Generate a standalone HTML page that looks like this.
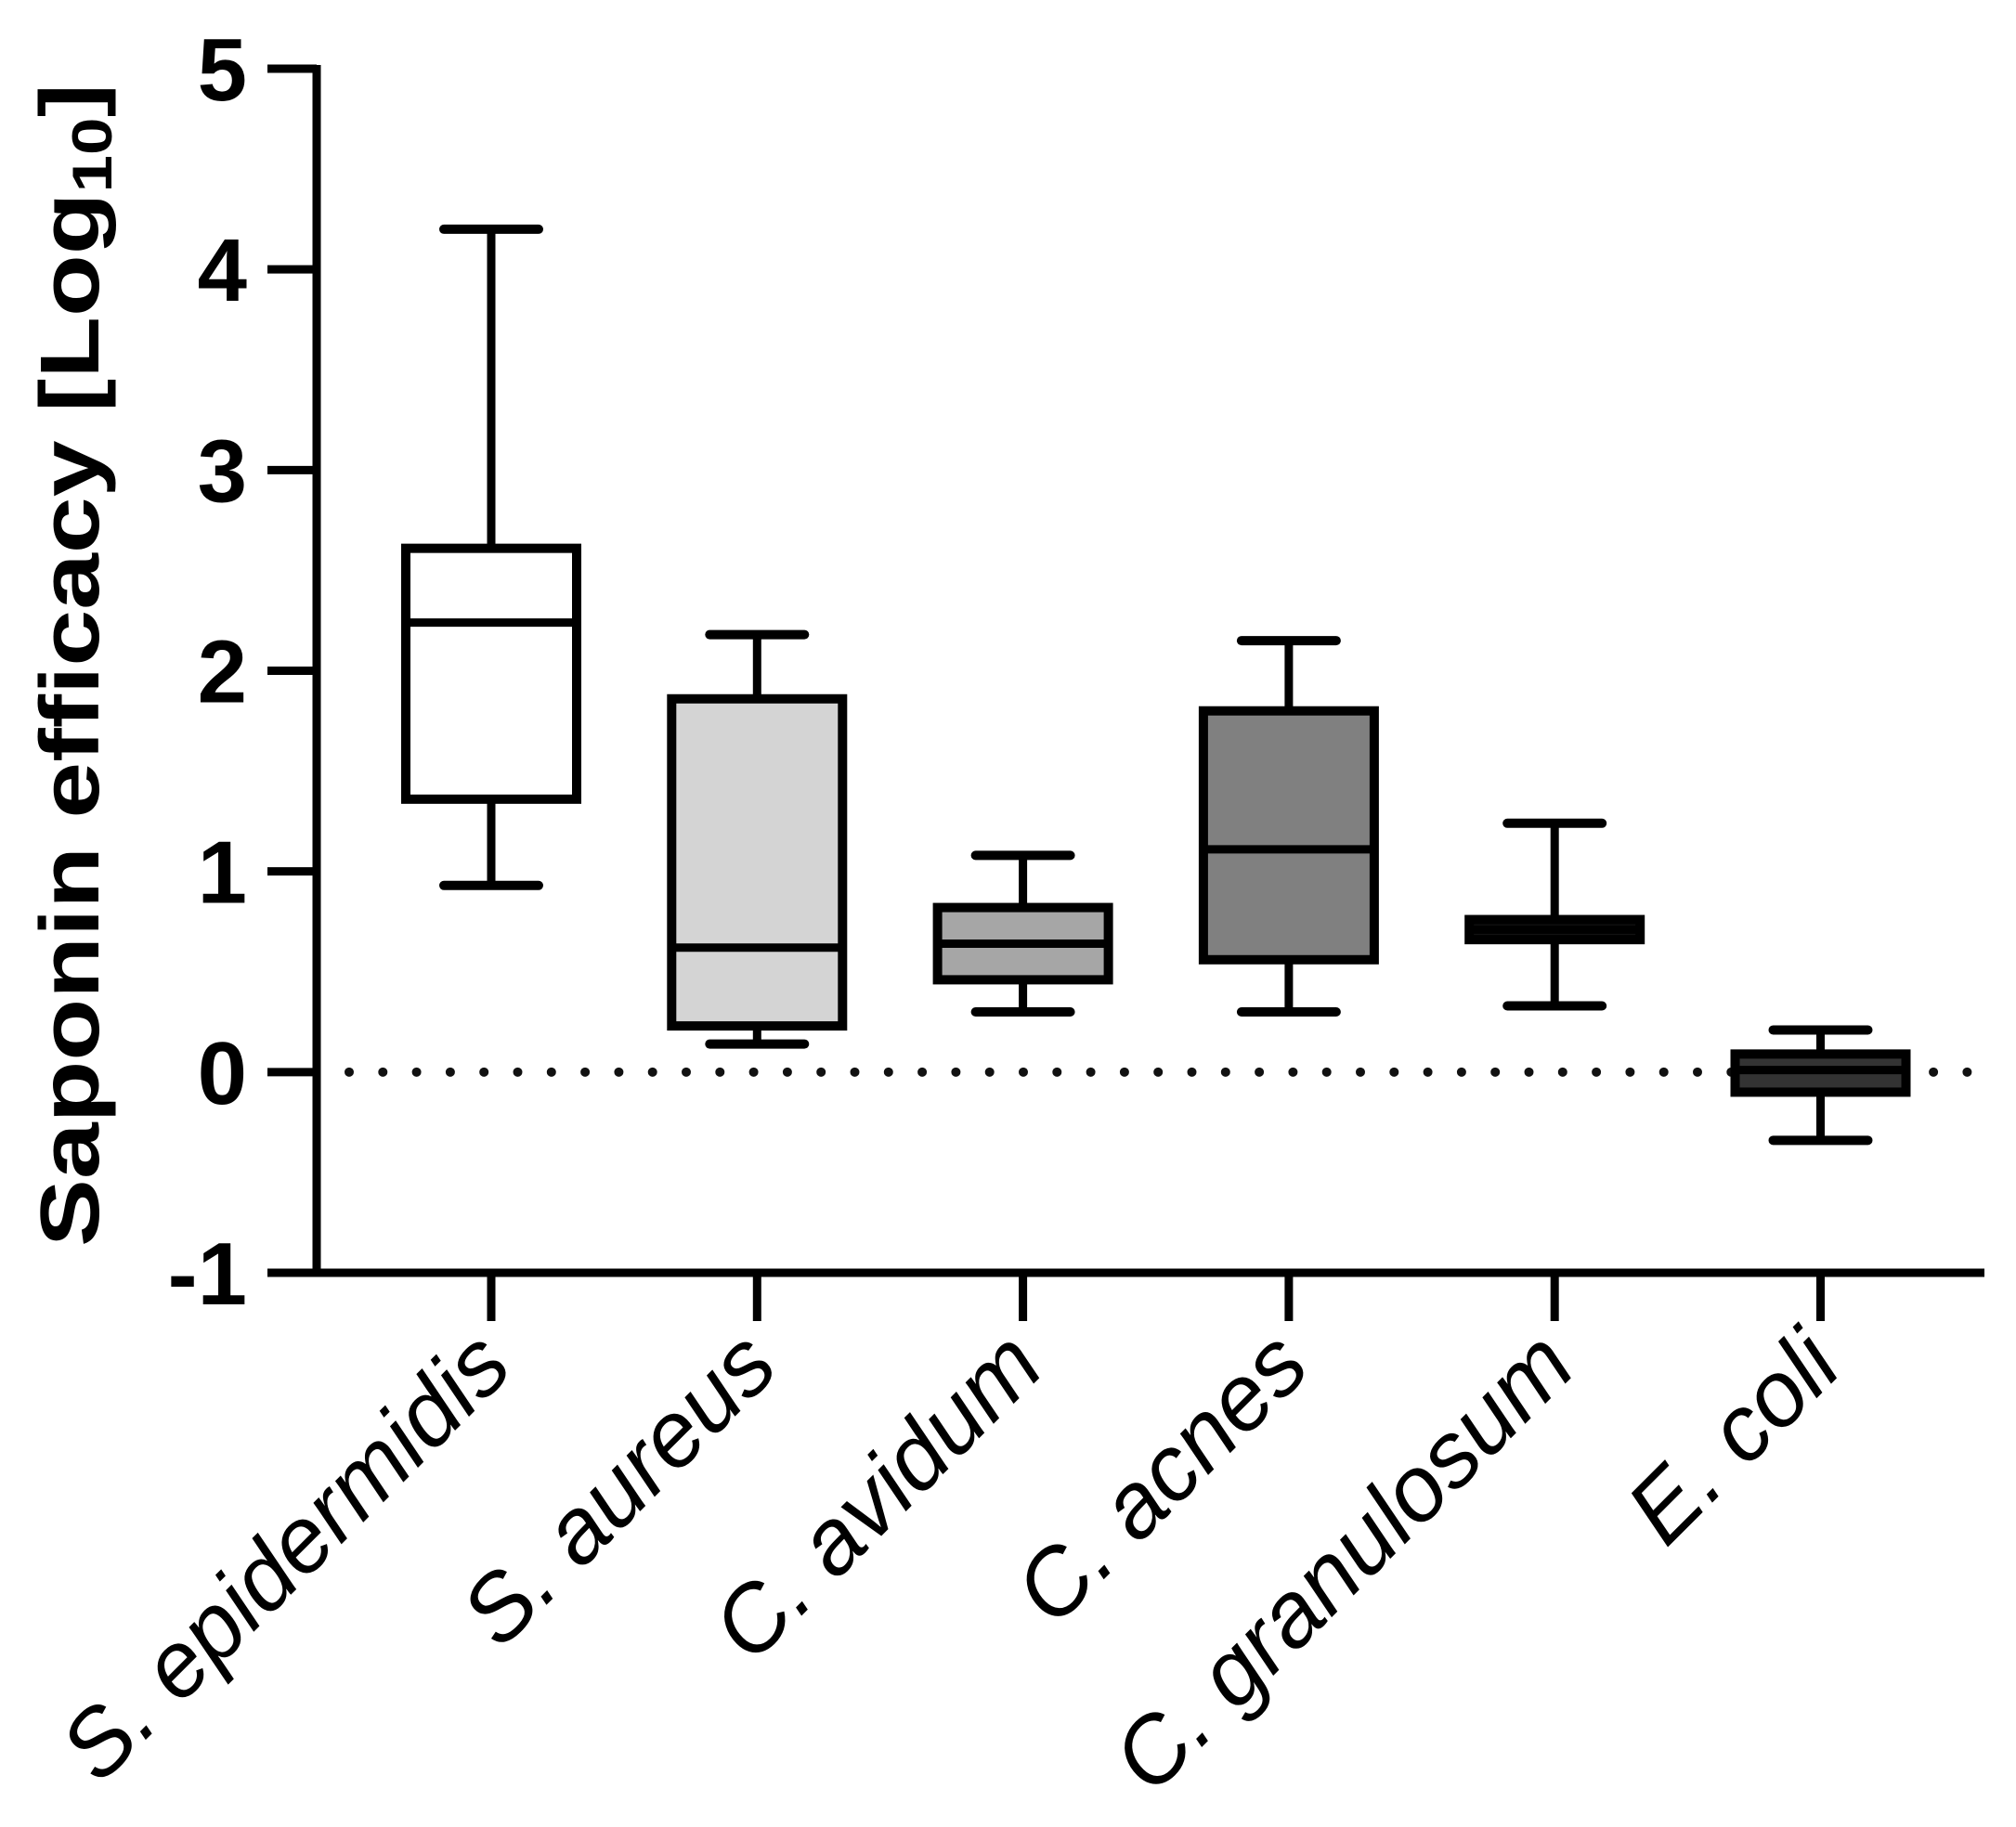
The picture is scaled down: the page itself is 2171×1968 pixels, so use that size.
<!DOCTYPE html>
<html><head><meta charset="utf-8"><style>
html,body{margin:0;padding:0;background:#fff;}
svg{display:block;}
</style></head><body>
<svg id="chart" width="2171" height="1968" viewBox="0 0 2171 1968" xmlns="http://www.w3.org/2000/svg" font-family="Liberation Sans, Arial, sans-serif">
<text transform="translate(106,1343) rotate(-90)" font-size="90" font-weight="bold" textLength="1253" lengthAdjust="spacingAndGlyphs">Saponin efficacy [Log<tspan font-size="60" dy="14">10</tspan><tspan dy="-14">]</tspan></text>
<g id="plot"></g>
</svg>
<script>
const categories = ["S. epidermidis","S. aureus","C. avidum","C. acnes","C. granulosum","E. coli"];
const whiskerHigh = [4.20, 2.18, 1.08, 2.15, 1.24, 0.21];
const q3 = [2.61, 1.86, 0.82, 1.80, 0.76, 0.09];
const medians = [2.24, 0.62, 0.64, 1.11, 0.71, 0.01];
const q1 = [1.36, 0.23, 0.46, 0.56, 0.66, -0.10];
const whiskerLow = [0.93, 0.14, 0.30, 0.30, 0.33, -0.34];
const fills = ["#ffffff","#d4d4d4","#a6a6a6","#808080","#111111","#333333"];
const yTicks = [-1,0,1,2,3,4,5];

const NS = "http://www.w3.org/2000/svg";
const g = document.getElementById('plot');
const X0 = 341, X1 = 2137, Ytop = 74, Ybot = 1371;
const yScale = v => Ybot - (v - (-1)) / 6 * (Ybot - Ytop);
const xScale = i => 529 + i * 286.3;
function el(tag, attrs){const e=document.createElementNS(NS,tag);for(const k in attrs)e.setAttribute(k,attrs[k]);g.appendChild(e);return e;}

for (let x = 376; x < 2125; x += 36.3) {
  const d = el('circle',{cx:x,cy:yScale(0),r:5,fill:'#111'});
  
  
}

const ya = el('line',{x1:X0,y1:Ytop-4,x2:X0,y2:Ybot+4,stroke:'#000','stroke-width':9});


const xa = el('line',{x1:X0-4,y1:Ybot,x2:X1,y2:Ybot,stroke:'#000','stroke-width':9});



yTicks.forEach(v=>{
  const y = yScale(v);
  const t = el('line',{x1:288,y1:y,x2:X0,y2:y,stroke:'#000','stroke-width':9});
  
  
  const l = el('text',{x:266,y:y+34,'text-anchor':'end','font-size':96,'font-weight':'bold'});
  l.textContent = String(v);
  
  
});

categories.forEach((c,i)=>{
  const cx = xScale(i);
  const t = el('line',{x1:cx,y1:Ybot,x2:cx,y2:1423,stroke:'#000','stroke-width':9});
  
  
  const l = el('text',{x:0,y:0,'text-anchor':'end','font-size':100,'font-style':'italic',transform:`translate(${cx+26},1476) rotate(-45)`});
  l.textContent = c;
  
  

  const bw = 184, cw = 102;
  const w1 = el('line',{x1:cx,y1:yScale(whiskerHigh[i]),x2:cx,y2:yScale(q3[i]),stroke:'#000','stroke-width':9});
  
  
  const w2 = el('line',{x1:cx,y1:yScale(q1[i]),x2:cx,y2:yScale(whiskerLow[i]),stroke:'#000','stroke-width':9});
  
  
  const c1 = el('line',{x1:cx-cw/2,y1:yScale(whiskerHigh[i]),x2:cx+cw/2,y2:yScale(whiskerHigh[i]),stroke:'#000','stroke-width':10,'stroke-linecap':'round'});
  
  
  const c2 = el('line',{x1:cx-cw/2,y1:yScale(whiskerLow[i]),x2:cx+cw/2,y2:yScale(whiskerLow[i]),stroke:'#000','stroke-width':10,'stroke-linecap':'round'});
  
  
  const b = el('rect',{x:cx-bw/2,y:yScale(q3[i]),width:bw,height:Math.max(1,yScale(q1[i])-yScale(q3[i])),fill:fills[i],stroke:'#000','stroke-width':10});
  
  
  const m = el('line',{x1:cx-bw/2,y1:yScale(medians[i]),x2:cx+bw/2,y2:yScale(medians[i]),stroke:'#000','stroke-width':9});
  
  
});
</script>
</body></html>
